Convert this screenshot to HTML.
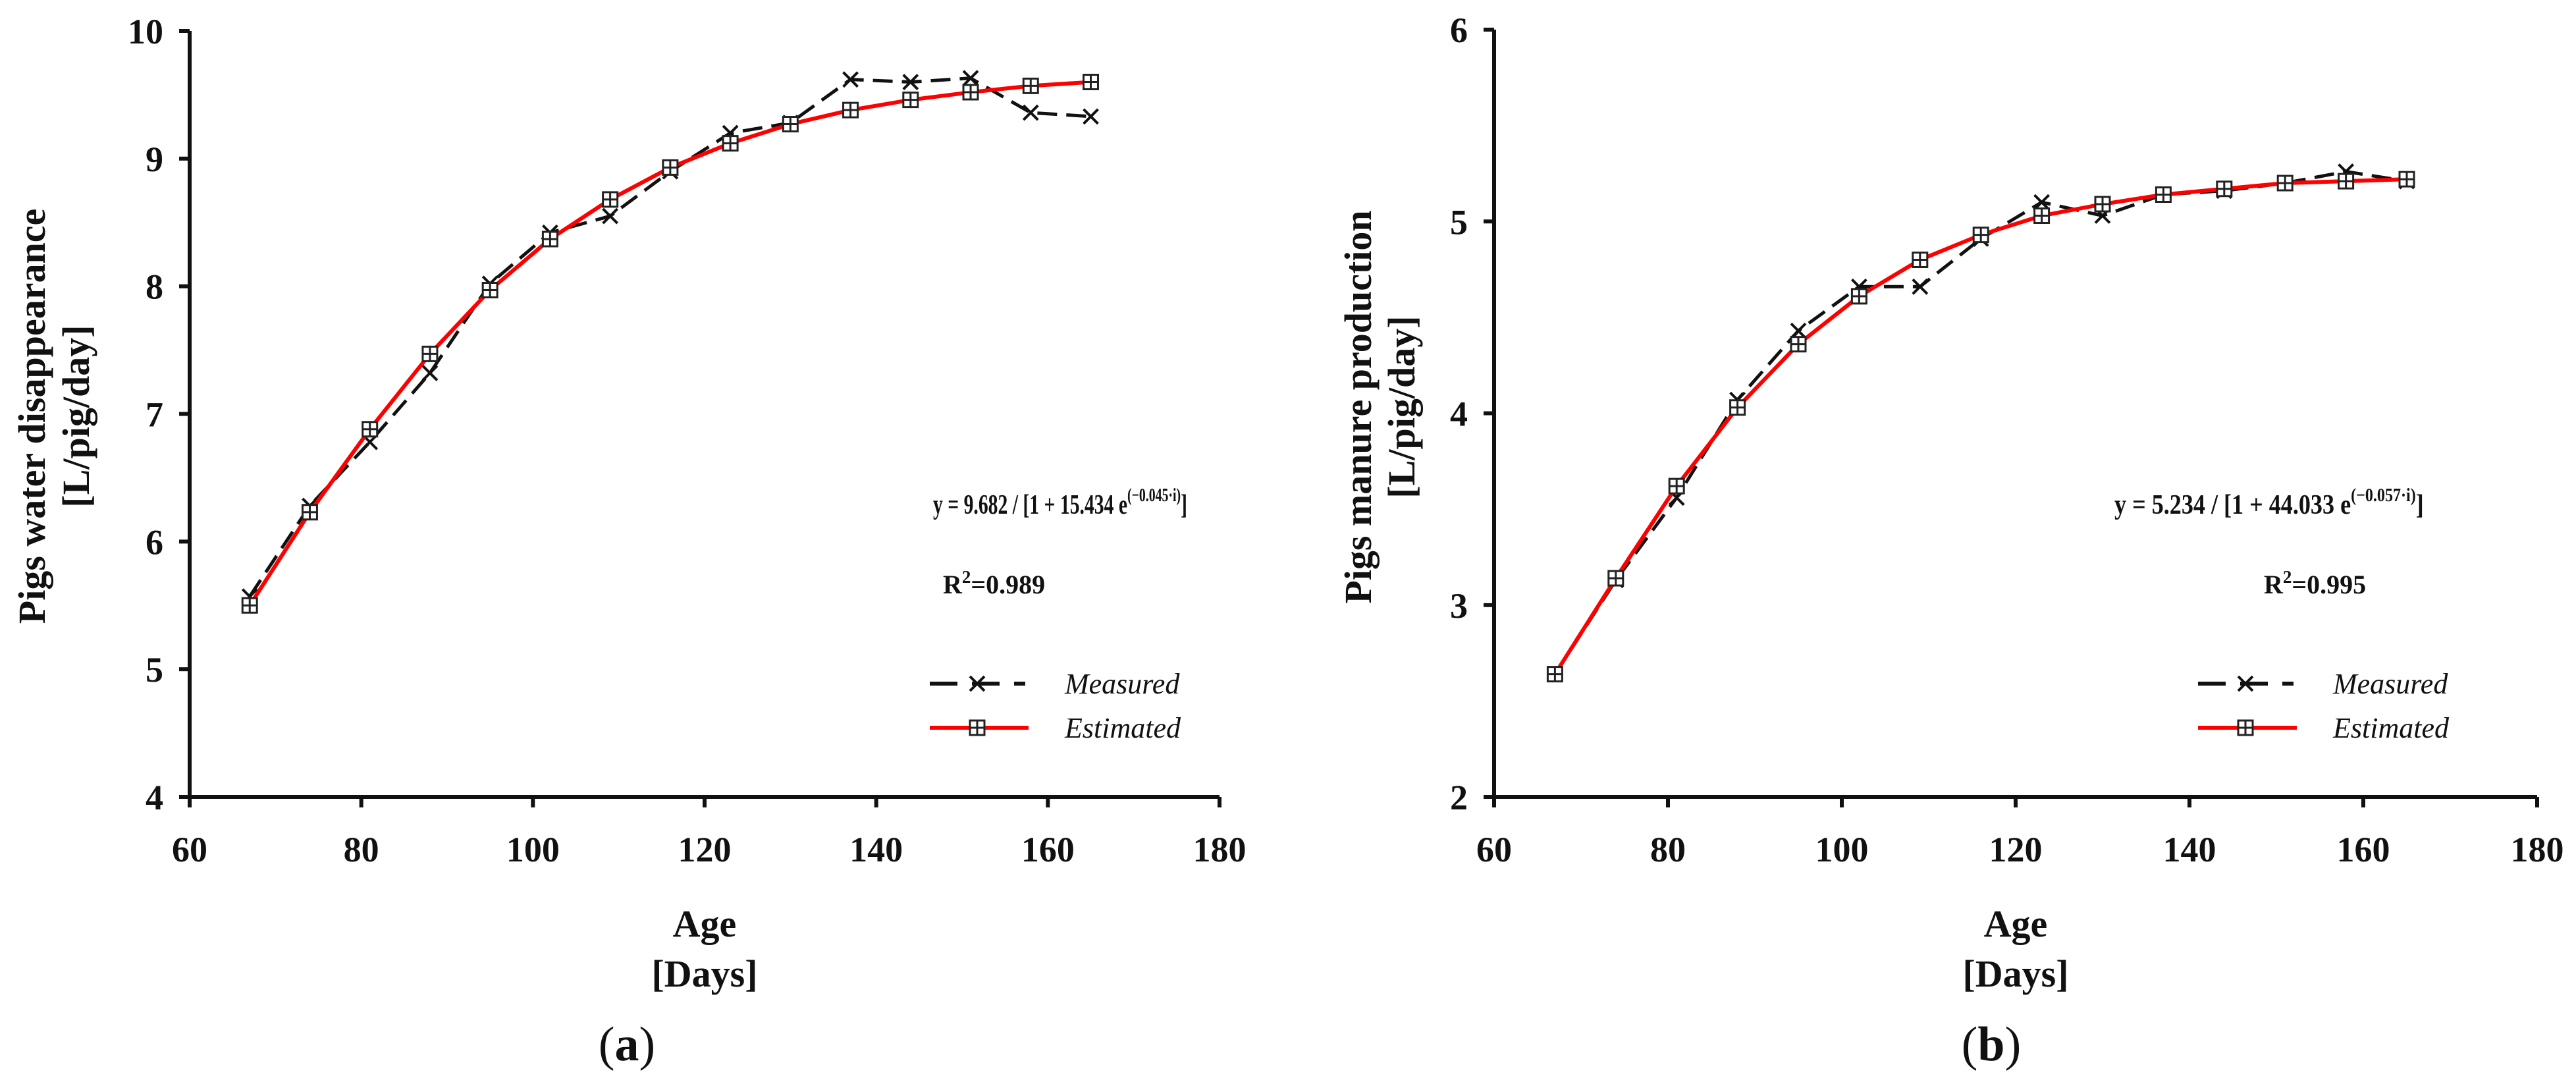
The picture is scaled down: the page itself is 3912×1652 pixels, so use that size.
<!DOCTYPE html>
<html><head><meta charset="utf-8">
<style>
html,body{margin:0;padding:0;background:#fff;}
svg{display:block;}
text{font-family:"Liberation Serif",serif;fill:#111;}
</style></head>
<body>
<svg id="chart" width="3912" height="1652" viewBox="0 0 3912 1652" xmlns="http://www.w3.org/2000/svg"></svg>
<script>
const ages = [67,74,81,88,95,102,109,116,123,130,137,144,151,158,165];
const waterMeasured = [5.57,6.28,6.78,7.32,8.02,8.42,8.55,8.9,9.2,9.28,9.62,9.6,9.63,9.36,9.33];
const waterEstimated = [5.5,6.23,6.88,7.47,7.97,8.37,8.68,8.93,9.12,9.27,9.38,9.46,9.52,9.57,9.6];
const manureMeasured = [2.64,3.13,3.56,4.07,4.43,4.66,4.66,4.91,5.1,5.03,5.14,5.16,5.2,5.26,5.21];
const manureEstimated = [2.64,3.14,3.62,4.03,4.36,4.61,4.8,4.93,5.03,5.09,5.14,5.17,5.2,5.21,5.22];
const xTicks = [60,80,100,120,140,160,180];
const waterYTicks = [4,5,6,7,8,9,10];
const manureYTicks = [2,3,4,5,6];

const NS = "http://www.w3.org/2000/svg";
const svg = document.getElementById('chart');
function mk(tag, attrs, parent){
  const e = document.createElementNS(NS, tag);
  for (const k in attrs) e.setAttribute(k, attrs[k]);
  (parent||svg).appendChild(e);
  return e;
}

function panel(cfg){
  const g = mk('g', {});
  
  
  const X = v => cfg.x0 + (v - 60) / 120 * (cfg.x1 - cfg.x0);
  const Y = v => cfg.yBot - (v - cfg.yMin) / (cfg.yMax - cfg.yMin) * (cfg.yBot - cfg.yTop);
  const ya = mk('line', {x1:cfg.x0, y1:cfg.yTop, x2:cfg.x0, y2:cfg.yBot+16, stroke:'#111','stroke-width':6}, g);
  
  
  const xa = mk('line', {x1:cfg.x0-16, y1:cfg.yBot, x2:cfg.x1, y2:cfg.yBot, stroke:'#111','stroke-width':6}, g);
  
  
  cfg.yTicks.forEach(t => {
    const y = Y(t);
    mk('line', {x1:cfg.x0-16, y1:y, x2:cfg.x0, y2:y, stroke:'#111','stroke-width':6}, g);
    const tx = mk('text', {x:cfg.x0-40, y:y+19, 'font-size':54, 'font-weight':'bold', 'text-anchor':'end'}, g);
    tx.textContent = t;
    
    
  });
  xTicks.forEach(t => {
    const x = X(t);
    mk('line', {x1:x, y1:cfg.yBot, x2:x, y2:cfg.yBot+16, stroke:'#111','stroke-width':6}, g);
    const tx = mk('text', {x:x, y:1308, 'font-size':54, 'font-weight':'bold', 'text-anchor':'middle'}, g);
    tx.textContent = t;
    
    
  });
  const xt1 = mk('text', {x:X(120), y:1422, 'font-size':58, 'font-weight':'bold', 'text-anchor':'middle'}, g);
  xt1.textContent = 'Age';
  
  
  const xt2 = mk('text', {x:X(120), y:1498, 'font-size':58, 'font-weight':'bold', 'text-anchor':'middle'}, g);
  xt2.textContent = '[Days]';
  
  
  const yt1 = mk('text', {x:0, y:0, 'font-size':58, 'font-weight':'bold', 'text-anchor':'middle', transform:`translate(${cfg.yl1},${cfg.ylc}) rotate(-90)`}, g);
  yt1.textContent = cfg.ylabel;
  
  
  const yt2 = mk('text', {x:0, y:0, 'font-size':58, 'font-weight':'bold', 'text-anchor':'middle', transform:`translate(${cfg.yl2},${cfg.ylc}) rotate(-90)`}, g);
  yt2.textContent = '[L/pig/day]';
  
  
  const mPts = ages.map((a,i)=>X(a)+','+Y(cfg.measured[i])).join(' ');
  const ml = mk('polyline', {points:mPts, fill:'none', stroke:'#111', 'stroke-width':5, 'stroke-dasharray':'30,14'}, g);
  
  
  ages.forEach((a,i) => {
    const x = X(a), y = Y(cfg.measured[i]);
    const p = mk('path', {d:`M${x-11},${y-11}L${x+11},${y+11}M${x-11},${y+11}L${x+11},${y-11}`, stroke:'#111','stroke-width':4}, g);
    
    
  });
  const ePts = ages.map((a,i)=>X(a)+','+Y(cfg.estimated[i])).join(' ');
  const el = mk('polyline', {points:ePts, fill:'none', stroke:'#ff0000', 'stroke-width':6}, g);
  
  
  ages.forEach((a,i) => {
    const x = X(a), y = Y(cfg.estimated[i]);
    const p = mk('path', {d:`M${x-11},${y-11}h22v22h-22zM${x},${y-11}v22M${x-11},${y}h22`, fill:'#fff', stroke:'#222','stroke-width':3}, g);
    
    
  });
  const eqG = mk('g', {}, g);
  const eq = mk('text', {x:0, y:0, 'font-size':42, 'font-weight':'bold'}, eqG);
  
  
  eq.innerHTML = cfg.eq + ' e<tspan dy="-19" font-size="28">(−' + cfg.k + '·i)</tspan><tspan dy="19">]</tspan>';
  const w = eq.getComputedTextLength ? eq.getComputedTextLength() : 500;
  const sx = w > 0 ? cfg.eqW / w : 0.75;
  eqG.setAttribute('transform', `translate(${cfg.eqX},780) scale(${sx},1)`);
  const r2 = mk('text', {x:cfg.r2X, y:901, 'font-size':40, 'font-weight':'bold'}, g);
  
  
  r2.innerHTML = 'R<tspan dy="-16" font-size="27">2</tspan><tspan dy="16">=' + cfg.r2 + '</tspan>';
  const lg = mk('g', {}, g);
  
  
  const lx = cfg.legX;
  mk('line', {x1:lx, y1:1038, x2:lx+145, y2:1038, stroke:'#111','stroke-width':6,'stroke-dasharray':'42,22'}, lg);
  mk('path', {d:`M${lx+61},${1027}L${lx+83},${1049}M${lx+61},${1049}L${lx+83},${1027}`, stroke:'#111','stroke-width':4}, lg);
  const lt1 = mk('text', {x:lx+205, y:1053, 'font-size':44, 'font-style':'italic'}, lg);
  lt1.textContent = 'Measured';
  
  
  mk('line', {x1:lx, y1:1105, x2:lx+150, y2:1105, stroke:'#ff0000','stroke-width':6}, lg);
  mk('path', {d:`M${lx+61},${1094}h22v22h-22zM${lx+72},${1094}v22M${lx+61},${1105}h22`, fill:'#fff', stroke:'#222','stroke-width':3}, lg);
  const lt2 = mk('text', {x:lx+205, y:1120, 'font-size':44, 'font-style':'italic'}, lg);
  lt2.textContent = 'Estimated';
  
  
  const pl = mk('text', {x:cfg.plX, y:1610, 'font-size':74, 'text-anchor':'middle'}, g);
  
  
  pl.innerHTML = '(<tspan font-weight="bold">' + cfg.letter + '</tspan>)';
}

panel({name:'panel-a-water', x0:288, x1:1852, yTop:47, yBot:1210, yMin:4, yMax:10, yTicks:waterYTicks,
  measured:waterMeasured, estimated:waterEstimated, ylabel:'Pigs water disappearance', yl1:68, yl2:135, ylc:632,
  eq:'y = 9.682 / [1 + 15.434', k:'0.045', eqX:1417, eqW:386, r2:'0.989', r2X:1432, legX:1412, plX:952, letter:'a'});
panel({name:'panel-b-manure', x0:2269, x1:3853, yTop:45, yBot:1210, yMin:2, yMax:6, yTicks:manureYTicks,
  measured:manureMeasured, estimated:manureEstimated, ylabel:'Pigs manure production', yl1:2082, yl2:2148, ylc:618,
  eq:'y = 5.234 / [1 + 44.033', k:'0.057', eqX:3211, eqW:470, r2:'0.995', r2X:3438, legX:3338, plX:3024, letter:'b'});
</script>
</body></html>
